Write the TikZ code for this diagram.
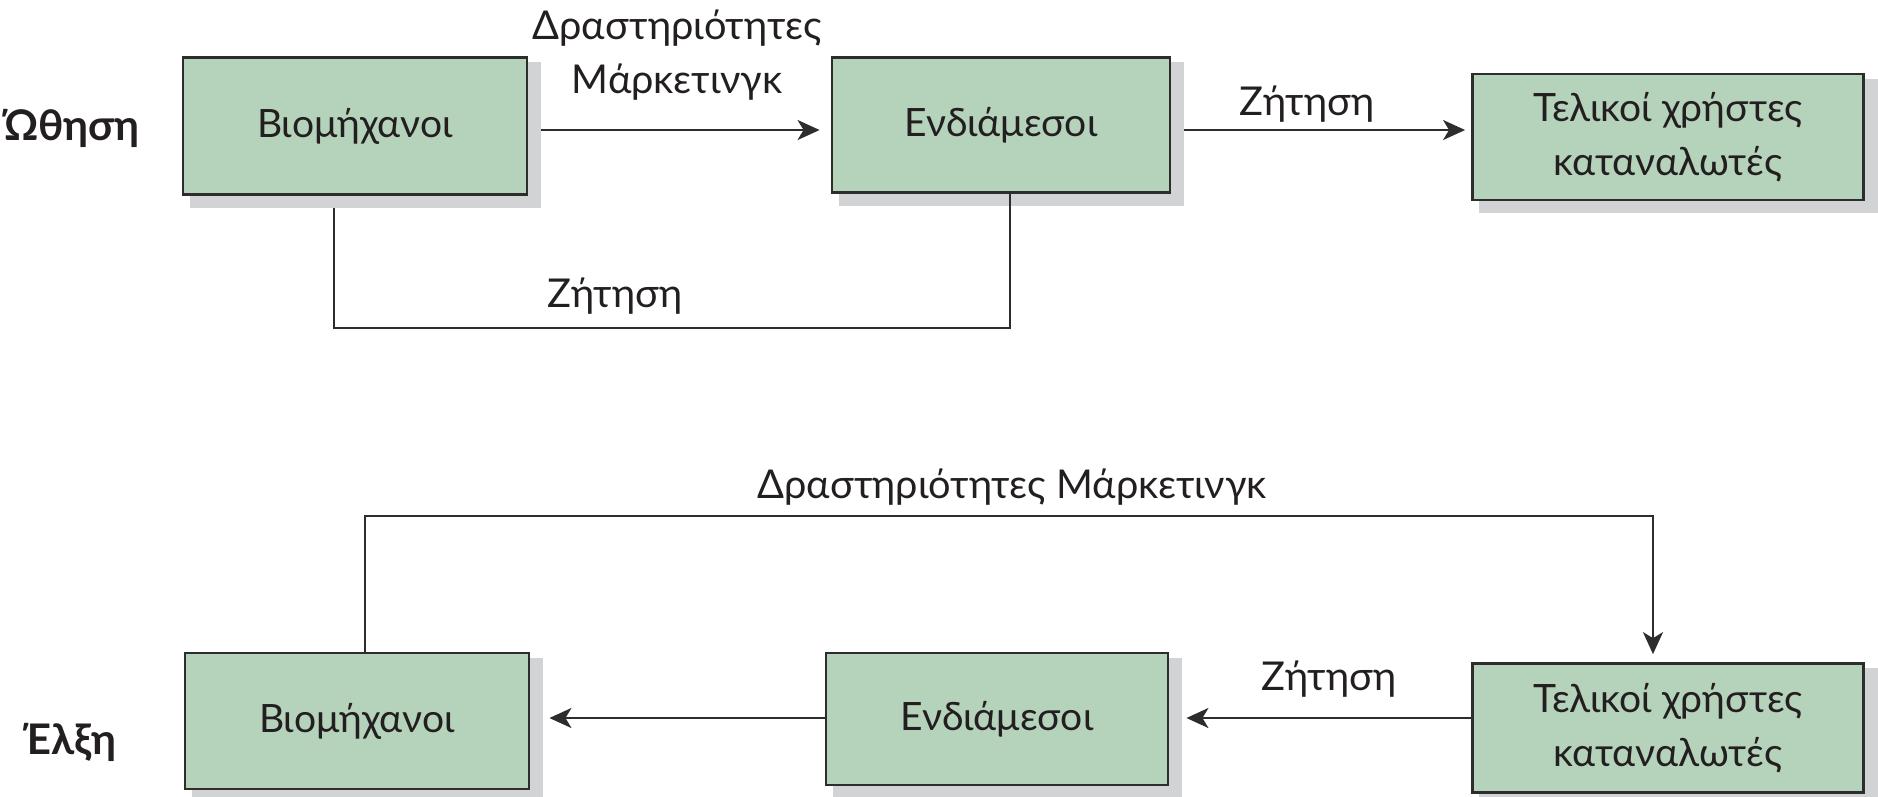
\documentclass[tikz,border=0pt]{standalone}
\usepackage{fontspec}
\setmainfont{Lato}
\usetikzlibrary{arrows.meta,backgrounds,calc}
\definecolor{boxfill}{RGB}{181,210,187}
\definecolor{shadowc}{RGB}{210,211,213}
\definecolor{linec}{RGB}{45,45,45}
\definecolor{txt}{RGB}{35,31,32}
\begin{document}
\begin{tikzpicture}[x=0.01cm,y=-0.01cm,
  box/.style={draw=linec, line width=0.75pt, fill=boxfill, inner sep=0pt, align=center,
    font=\fontsize{11.1}{15.5}\selectfont, text=txt},
  conn/.style={draw=linec, line width=0.6pt},
  arr/.style={conn, -{Stealth[length=0.22cm,width=0.2cm,inset=0.06cm]}},
  lbl/.style={font=\fontsize{11.3}{16}\selectfont, text=txt, inner sep=0pt, align=center},
  side/.style={font=\bfseries\fontsize{12}{15}\selectfont, text=txt, inner sep=0pt}]
\useasboundingbox (0,0) rectangle (1878,796);
% top row (push)
\node[box, minimum width=3.44cm, minimum height=1.37cm] (T1) at (355,126) {Βιομήχανοι};
\node[box, minimum width=3.38cm, minimum height=1.35cm] (T2) at (1001,125) {Ενδιάμεσοι};
\node[box, minimum width=3.91cm, minimum height=1.26cm] (T3) at (1668,137) {Τελικοί χρήστες\\καταναλωτές};
% bottom row (pull)
\node[box, minimum width=3.44cm, minimum height=1.36cm] (L1) at (357,721) {Βιομήχανοι};
\node[box, minimum width=3.42cm, minimum height=1.32cm] (L2) at (997,719) {Ενδιάμεσοι};
\node[box, minimum width=3.91cm, minimum height=1.29cm] (L3) at (1668,728) {Τελικοί χρήστες\\καταναλωτές};
% shadows
\begin{scope}[on background layer]
\foreach \n in {T1,T2,T3,L1,L2,L3}
  \fill[shadowc] ($(\n.north west)+(8,6)$) rectangle ($(\n.south east)+(13,12)$);
\end{scope}
% side labels
\node[side] (push) at (72,128) {Ώθηση};
\node[side] (pull) at (70,742) {Έλξη};
% connector labels
\node[lbl] (m1) at (677,28) {Δραστηριότητες};
\node[lbl] (m2) at (677,82) {Μάρκετινγκ};
\node[lbl] (z1) at (1307,104) {Ζήτηση};
\node[lbl] (z2) at (615,296) {Ζήτηση};
\node[lbl] (z3) at (1329,679) {Ζήτηση};
\node[lbl] (m3) at (1012,487) {Δραστηριότητες Μάρκετινγκ};
% top connectors
\draw[arr, shorten <=0.13cm, shorten >=0.11cm] ([yshift=-0.04cm]T1.east) -- ([yshift=-0.04cm]T1.east -| T2.west);
\draw[arr, shorten <=0.13cm, shorten >=0.06cm] ([yshift=-0.05cm]T2.east) -- ([yshift=-0.05cm]T2.east -| T3.west);
\draw[conn, shorten <=0.12cm] ([xshift=-0.21cm]T1.south) -- ++(0,132) -| ([xshift=0.09cm]T2.south);
% bottom connectors
\draw[arr, shorten >=0.17cm] ([yshift=0.1cm]L3.west) -- ([yshift=0.1cm]L3.west -| L2.east);
\draw[arr, shorten >=0.19cm] ([yshift=0.01cm]L2.west) -- ([yshift=0.01cm]L2.west -| L1.east);
\draw[arr, shorten >=0.08cm] ([xshift=0.08cm]L1.north) -- ++(0,-136) -| ([xshift=-0.15cm]L3.north);
\end{tikzpicture}
\end{document}
